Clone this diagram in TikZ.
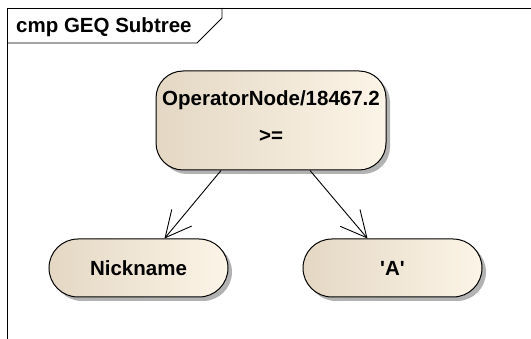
\documentclass[tikz,border=0pt]{standalone}
\usepackage{fontspec}
\setmainfont{Liberation Sans}
\usetikzlibrary{arrows.meta,shadows}

\definecolor{tanleft}{HTML}{E4D8C4}
\definecolor{tanright}{HTML}{FCF4E7}

\tikzset{
  opnode/.style={draw,line width=1pt,left color=tanleft,right color=tanright,
    drop shadow={shadow xshift=4pt,shadow yshift=-4pt,fill=black!30,opacity=1},
    font=\fontsize{20.5}{37}\selectfont\bfseries,align=center},
  leafnode/.style={opnode,minimum width=179pt,minimum height=58pt,rounded corners=29pt},
  edge/.style={line width=0.9pt,-{Straight Barb[length=26pt,width=26pt,line width=0.9pt]}}
}

\begin{document}
\begin{tikzpicture}
[x=1pt,y=-1pt]
\useasboundingbox (0,0) rectangle (531,339);

% frame and tab
\draw[line width=0.9pt] (7,339) -- (7,8) -- (531,8);
\draw[line width=0.9pt] (7,43) -- (197,43) -- (222,18) -- (222,8);
\node[anchor=west,font=\fontsize{20.5}{24}\selectfont\bfseries,inner sep=0pt] (title) at (16,27) {cmp GEQ Subtree};

\node[opnode,minimum width=230pt,minimum height=99pt,rounded corners=27pt,text depth=8pt] (op) at (271,120.5)
  {OperatorNode/18467.2\\>=};

\node[leafnode] (nick) at (138.5,268) {Nickname};
\node[leafnode] (lit) at (392.5,268) {\textquotesingle A\textquotesingle};

\draw[edge] ([xshift=-50pt]op.south) -- ([xshift=26pt]nick.north);
\draw[edge] ([xshift=39pt]op.south) -- ([xshift=-25pt]lit.north);
\end{tikzpicture}
\end{document}
